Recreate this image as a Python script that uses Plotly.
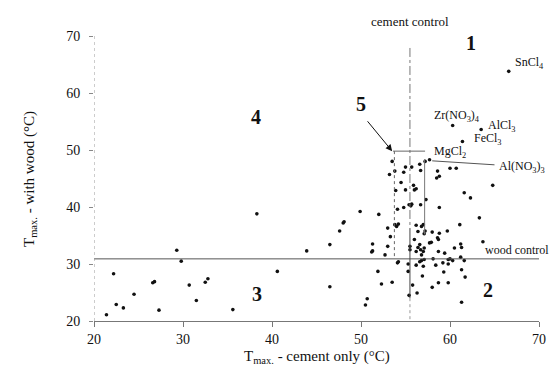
import plotly.graph_objects as go

# ---- data ----
cement_only = [
    21.4, 22.2, 22.5, 23.3, 24.5, 26.6, 26.8, 27.3, 29.3, 29.8, 30.7, 31.5, 32.5, 32.8, 35.6, 38.3, 40.6, 43.9,
    46.5, 46.5, 47.6, 48.0, 48.1, 49.9, 50.5, 50.7, 51.3, 51.3, 51.2, 51.9, 52.0, 52.3, 52.7, 53.0, 53.0, 53.3, 53.5,
    53.5, 53.8, 53.2, 54.8, 55.0, 54.5, 53.9, 55.0, 54.1, 54.8, 54.0, 54.2, 53.8,
    55.7, 56.6, 56.7, 57.2, 55.9, 56.2, 56.0, 55.4, 55.6, 55.7, 56.7, 57.3,
    56.2, 56.8, 57.0, 56.4, 57.2, 57.1, 56.0,
    55.5, 55.5, 56.2, 56.4, 56.6, 56.7, 56.8, 57.0, 57.1,
    56.8, 57.1, 56.6, 54.1, 54.2, 55.3, 56.2, 57.0,
    55.3, 56.9, 55.8, 56.3, 55.4,
    58.5, 58.8, 58.6, 60.0, 60.7, 58.8, 58.0, 58.8, 59.7, 58.6, 58.7, 57.7, 57.9, 58.7, 59.4, 60.5, 61.2, 61.3,
    58.1, 59.8, 60.0, 60.3, 61.2, 61.6, 58.4, 59.2, 59.8, 59.3, 61.3, 61.7, 58.7, 59.8, 58.0, 61.3,
    61.6, 62.3, 63.3, 61.1, 64.8, 63.7,
]
with_wood = [
    21.1, 28.3, 22.9, 22.3, 24.7, 26.7, 26.9, 21.9, 32.4, 30.5, 26.3, 23.6, 26.8, 27.4, 22.0, 38.8, 28.7, 32.3,
    33.4, 26.0, 35.8, 37.2, 37.4, 39.2, 22.8, 23.9, 33.5, 32.3, 32.1, 28.7, 38.7, 26.5, 31.6, 36.3, 33.1, 34.8, 26.8,
    48.0, 46.3, 45.7, 46.1, 47.0, 44.3, 42.9, 43.0, 39.6, 39.9, 36.6, 37.0, 36.9,
    47.0, 47.5, 46.4, 48.0, 43.8, 43.2, 43.0, 40.4, 40.2, 40.5, 40.4, 41.3,
    36.8, 36.6, 36.9, 35.7, 35.8, 35.3, 34.3,
    33.1, 32.5, 32.2, 32.9, 33.4, 32.5, 31.6, 32.2, 32.8,
    30.6, 30.8, 30.4, 30.2, 30.4, 30.0, 29.8, 29.6,
    28.7, 27.9, 26.3, 24.9, 24.5,
    45.1, 45.4, 46.3, 46.8, 46.8, 39.9, 35.6, 35.4, 35.8, 34.6, 34.3, 33.7, 33.8, 32.2, 31.9, 32.8, 33.5, 32.9,
    30.9, 30.8, 30.9, 30.6, 31.2, 30.6, 29.8, 30.2, 30.0, 28.6, 29.0, 27.7, 26.7, 26.7, 25.9, 23.3,
    42.5, 41.6, 38.1, 36.9, 43.8, 33.9,
]

labeled_names = ["SnCl<sub>4</sub>", "Zr(NO<sub>3</sub>)<sub>4</sub>", "AlCl<sub>3</sub>",
                 "FeCl<sub>3</sub>", "MgCl<sub>2</sub>"]
labeled_x = [66.6, 60.3, 63.5, 61.4, 57.7]
labeled_y = [63.8, 54.3, 53.6, 51.5, 48.3]

cement_control = 55.5
wood_control = 30.9

tick_vals = [20, 30, 40, 50, 60, 70]

SERIF = "Liberation Serif, Times New Roman, serif"
INK = "#111111"
LINE = "#555555"

fig = go.Figure()

fig.add_trace(go.Scatter(
    x=cement_only, y=with_wood, mode="markers",
    marker=dict(size=3.6, color=INK), showlegend=False, hoverinfo="skip"))
fig.add_trace(go.Scatter(
    x=labeled_x, y=labeled_y, mode="markers",
    marker=dict(size=3.6, color=INK), showlegend=False, hoverinfo="skip"))

shapes = []
shapes.append(dict(type="line", xref="x", yref="y", x0=20, x1=70, y0=wood_control, y1=wood_control,
                   line=dict(color=LINE, width=1)))
shapes.append(dict(type="line", xref="x", yref="y", x0=cement_control, x1=cement_control, y0=67.9, y1=36.3,
                   line=dict(color="#777777", width=1, dash="dashdot")))
shapes.append(dict(type="line", xref="x", yref="y", x0=cement_control, x1=cement_control, y0=36.3, y1=24.0,
                   line=dict(color="#444444", width=1)))
shapes.append(dict(type="line", xref="x", yref="y", x0=cement_control, x1=cement_control, y0=24.0, y1=20.0,
                   line=dict(color="#999999", width=1, dash="dot")))
shapes.append(dict(type="line", xref="x", yref="y", x0=53.6, x1=57.2, y0=49.8, y1=49.8,
                   line=dict(color="#666666", width=1)))
shapes.append(dict(type="line", xref="x", yref="y", x0=53.75, x1=53.75, y0=49.8, y1=wood_control,
                   line=dict(color="#666666", width=1, dash="dot")))
shapes.append(dict(type="line", xref="x", yref="y", x0=57.15, x1=57.15, y0=48.4, y1=35.2,
                   line=dict(color="#777777", width=1)))
shapes.append(dict(type="line", xref="x", yref="y", x0=58.0, x1=65.0, y0=48.1, y1=47.4,
                   line=dict(color="#555555", width=1)))
shapes.append(dict(type="line", xref="x", yref="y", x0=20, x1=20, y0=20, y1=70,
                   line=dict(color="#999999", width=1, dash="dot")))
fig.update_layout(shapes=shapes)

ann = []
def txt(x, y, s, size=12, xanchor="left", bold=False, xref="x", yref="y"):
    ann.append(dict(x=x, y=y, xref=xref, yref=yref, text=("<b>%s</b>" % s) if bold else s,
                    showarrow=False, xanchor=xanchor, yanchor="middle",
                    font=dict(family=SERIF, size=size, color=INK)))

txt(cement_control, 1.05, "cement control", size=13, xanchor="center", yref="paper")
txt(62.4, 68.8, "1", size=20, xanchor="center", bold=True)
txt(64.3, 25.4, "2", size=20, xanchor="center", bold=True)
txt(38.3, 24.7, "3", size=20, xanchor="center", bold=True)
txt(38.2, 55.8, "4", size=20, xanchor="center", bold=True)
txt(50.0, 58.0, "5", size=20, xanchor="center", bold=True)
txt(63.7, 32.5, "wood control", size=12)

txt(67.1, 65.3, labeled_names[0])
txt(60.8, 55.9, labeled_names[1], xanchor="center")
txt(64.0, 54.2, labeled_names[2])
txt(62.5, 51.9, labeled_names[3])
txt(58.0, 49.6, labeled_names[4])
txt(65.3, 47.1, "Al(NO<sub>3</sub>)<sub>3</sub>")

ann.append(dict(x=53.5, y=49.8, ax=50.6, ay=55.3, xref="x", yref="y", axref="x", ayref="y",
                showarrow=True, arrowhead=2, arrowsize=1.3, arrowwidth=1, arrowcolor=INK, text=""))

ann.append(dict(x=0.5, y=-0.128, xref="paper", yref="paper", showarrow=False, xanchor="center",
                yanchor="middle", text="T<sub>max.</sub> - cement only (°C)",
                font=dict(family=SERIF, size=15, color=INK)))
ann.append(dict(x=-0.145, y=0.5, xref="paper", yref="paper", showarrow=False, xanchor="center",
                yanchor="middle", textangle=-90, text="T<sub>max.</sub> - with wood (°C)",
                font=dict(family=SERIF, size=15, color=INK)))
fig.update_layout(annotations=ann)

fig.update_layout(
    width=558, height=381,
    margin=dict(l=86, r=27, t=28, b=68),
    paper_bgcolor="white", plot_bgcolor="white",
    font=dict(family=SERIF, size=14, color=INK),
    xaxis=dict(range=[20, 70], tickvals=tick_vals, ticks="outside", ticklen=5, tickcolor="#777777",
               showline=True, linecolor="#777777", linewidth=1, showgrid=False, zeroline=False,
               tickfont=dict(family=SERIF, size=14, color=INK)),
    yaxis=dict(range=[20, 70], tickvals=tick_vals, ticks="outside", ticklen=4, tickcolor="#888888",
               showline=False, showgrid=False, zeroline=False, ticklabelstandoff=6,
               tickfont=dict(family=SERIF, size=14, color=INK)),
)

fig.write_html("out.html")
